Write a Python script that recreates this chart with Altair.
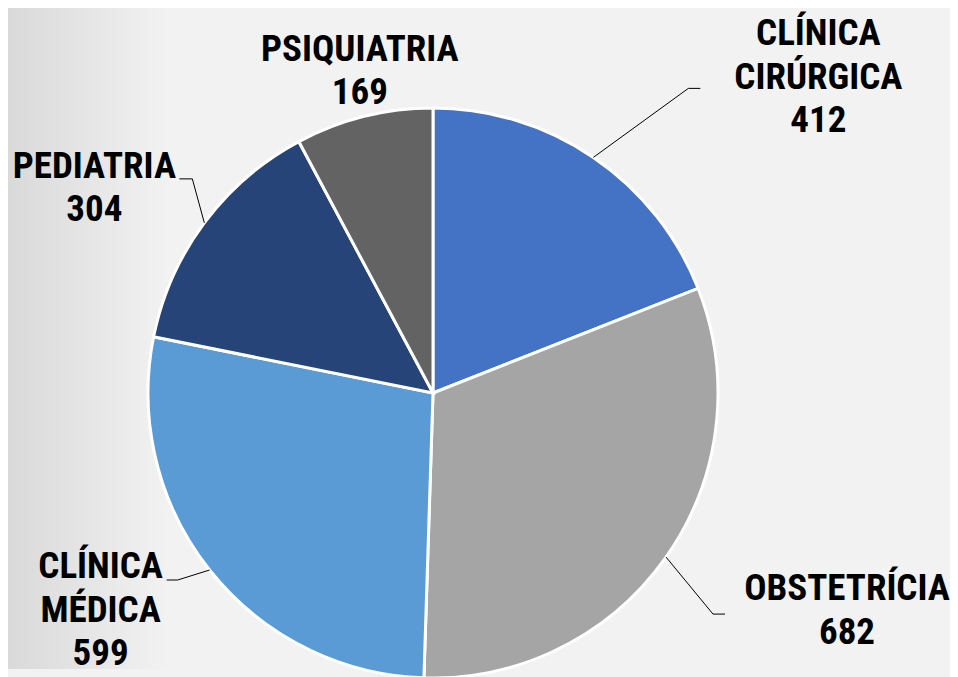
import math
import altair as alt
import pandas as pd

# ---- data ----
categories = ["CLÍNICA CIRÚRGICA", "OBSTETRÍCIA", "CLÍNICA MÉDICA", "PEDIATRIA", "PSIQUIATRIA"]
values = [412, 682, 599, 304, 169]
colors = ["#4472C4", "#A5A5A5", "#5B9BD5", "#264478", "#636363"]

# ---- layout / style (not data) ----
W, H = 942, 661
CX, CY, R = 425, 385, 285
FONT = "Liberation Sans Narrow, Arial Narrow, Roboto Condensed, DejaVu Sans Condensed, sans-serif"
FS = 37
LH = 43.5
# per label: elbow offset from slice edge, horizontal tail length, text offset from tail end
elbow_off = [(95, -69), (47, 57), (-32, 10), (-12, -44), (0, 0)]
tail_len = [12, 12, -11, -13, 0]
text_off = [(118, -43), (122, -14), (-66, -2), (-85, -1), (-4, -56)]
has_leader = [True, True, True, True, False]

total = sum(values)
pie_df = pd.DataFrame({"cat": categories, "value": values, "idx": list(range(len(values)))})

seg_rows, txt_rows = [], []
cum = 0
for i, (c, v) in enumerate(zip(categories, values)):
    mid = (cum + v / 2) / total * 2 * math.pi
    cum += v
    ex = CX + R * math.sin(mid)
    ey = CY - R * math.cos(mid)
    bx, by = ex + elbow_off[i][0], ey + elbow_off[i][1]
    tx, ty = bx + tail_len[i], by
    if has_leader[i]:
        seg_rows.append({"x": ex, "y": ey, "x2": bx, "y2": by})
        seg_rows.append({"x": bx, "y": by, "x2": tx, "y2": ty})
    lines = c.split(" ") + [str(v)]
    for k, ln in enumerate(lines):
        txt_rows.append({"t": ln, "x": tx + text_off[i][0], "y": ty + text_off[i][1] + k * LH})

seg_df = pd.DataFrame(seg_rows)
txt_df = pd.DataFrame(txt_rows)

bg = alt.Chart(pd.DataFrame({"a": [0]})).mark_rect(
    fill=alt.Gradient(
        gradient="linear", x1=0, x2=1, y1=0, y2=0,
        stops=[alt.GradientStop(offset=0, color="#d9d9d9"),
               alt.GradientStop(offset=0.17, color="#f2f2f2"),
               alt.GradientStop(offset=1, color="#f2f2f2")],
    )
).encode(x=alt.value(0), x2=alt.value(W), y=alt.value(0), y2=alt.value(H))

pie = alt.Chart(pie_df).mark_arc(outerRadius=R, stroke="white", strokeWidth=3).encode(
    theta=alt.Theta("value:Q", stack=True),
    color=alt.Color("cat:N", scale=alt.Scale(domain=categories, range=colors), legend=None),
    order=alt.Order("idx:Q"),
    x=alt.value(CX),
    y=alt.value(CY),
)

leaders = alt.Chart(seg_df).mark_rule(color="black", strokeWidth=1).encode(
    x=alt.X("x:Q", scale=None), y=alt.Y("y:Q", scale=None),
    x2="x2:Q", y2="y2:Q",
)

labels = alt.Chart(txt_df).mark_text(
    font=FONT, fontSize=FS, fontWeight="bold", color="black", align="center", baseline="alphabetic"
).encode(
    x=alt.X("x:Q", scale=None), y=alt.Y("y:Q", scale=None), text="t:N"
)

chart = alt.layer(bg, pie, leaders, labels).properties(
    width=W, height=H, padding=0, background="#f2f2f2"
).configure_view(stroke=None)

chart.save("out.html", embed_options={"renderer": "svg", "actions": False})
